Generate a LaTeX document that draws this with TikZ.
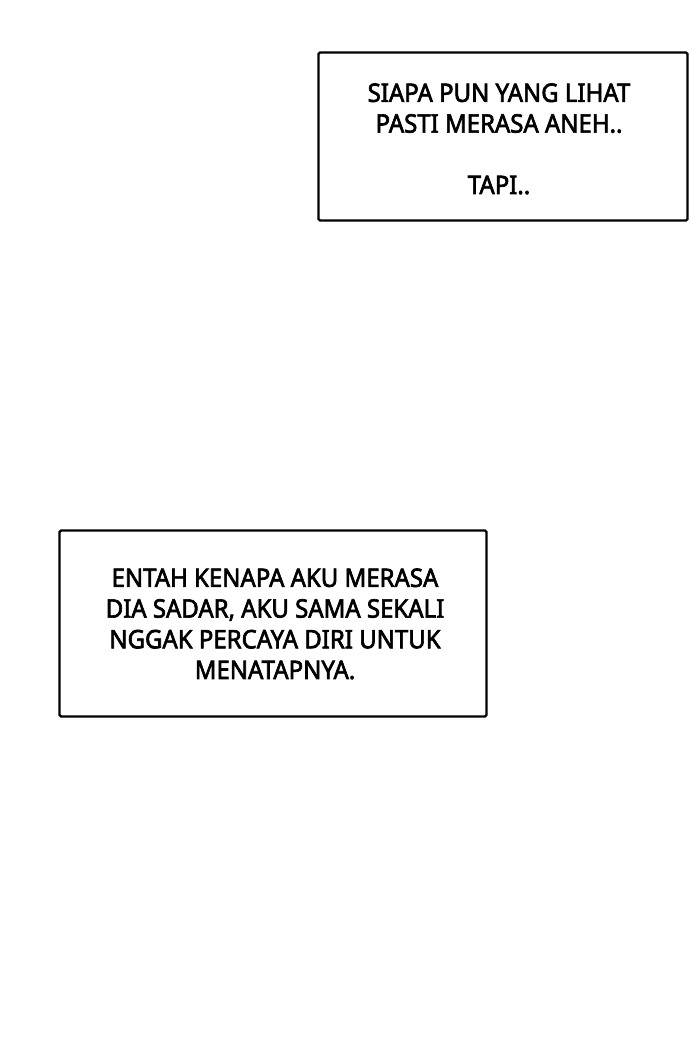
\documentclass[tikz,border=0pt]{standalone}
\usepackage{fontspec}
\setmainfont{Noto Sans}[FakeBold=2.5,FakeStretch=0.94]
\begin{document}
\begin{tikzpicture}[x=1pt,y=1pt,
  panel/.style={draw=black,line width=2.2pt,rounded corners=1.5pt,fill=white,inner sep=0pt},
  caption/.style={align=center,font=\fontsize{25.5}{30.7}\selectfont,inner sep=0pt,anchor=base}]
\useasboundingbox (0,0) rectangle (700,1037);
\fill[white] (0,0) rectangle (700,1037);
\node[panel,minimum width=369pt,minimum height=168pt] (box1) at (503,900.5) {};
\node[panel,minimum width=427pt,minimum height=186pt] (box2) at (273,413.5) {};
\node[caption] (t1) at (499,843) {SIAPA PUN YANG LIHAT\\PASTI MERASA ANEH..\\[30.7pt]TAPI..};
\node[caption] (t2) at (275,358) {ENTAH KENAPA AKU MERASA\\DIA SADAR, AKU SAMA SEKALI\\NGGAK PERCAYA DIRI UNTUK\\MENATAPNYA.};
\end{tikzpicture}
\end{document}
